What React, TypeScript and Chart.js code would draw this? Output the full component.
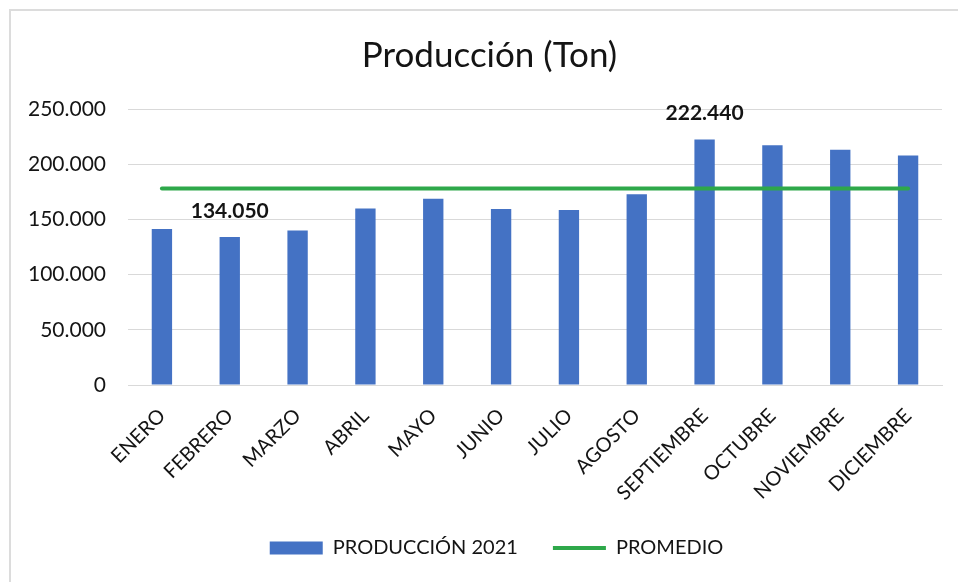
import React, { useEffect, useRef } from "react";
import { Chart, registerables } from "chart.js";

Chart.register(...registerables);

const MONTHS = [
  "ENERO",
  "FEBRERO",
  "MARZO",
  "ABRIL",
  "MAYO",
  "JUNIO",
  "JULIO",
  "AGOSTO",
  "SEPTIEMBRE",
  "OCTUBRE",
  "NOVIEMBRE",
  "DICIEMBRE",
];

const PRODUCCION_2021 = [
  141200, 134050, 139900, 159800, 168600, 159500, 158600, 172800, 222440,
  217200, 213200, 207800,
];

const PROMEDIO = [
  177900, 177900, 177900, 177900, 177900, 177900, 177900, 177900, 177900,
  177900, 177900, 177900,
];

const LABELED_INDICES = [1, 8];

const Y_MIN = 0;
const Y_MAX = 250000;
const Y_STEP = 50000;

const BLUE = "#4472C4";
const GREEN = "#2EA84A";
const TEXT = "#141414";
const FONT = "Lato, 'Open Sans', sans-serif";

function fmt(v: number): string {
  return String(Math.round(v)).replace(/\B(?=(\d{3})+(?!\d))/g, ".");
}

const valueLabels = {
  id: "valueLabels",
  afterDatasetsDraw(chart: any) {
    const meta = chart.getDatasetMeta(1);
    const ctx = chart.ctx;
    ctx.save();
    ctx.font = `bold 21px ${FONT}`;
    ctx.fillStyle = TEXT;
    ctx.textAlign = "center";
    ctx.textBaseline = "middle";
    LABELED_INDICES.forEach((i) => {
      const el = meta.data[i];
      if (el) ctx.fillText(fmt(PRODUCCION_2021[i]), el.x, el.y - 26);
    });
    ctx.restore();
  },
};

const blockShift = {
  id: "blockShift",
  afterLayout(chart: any) {
    const l = chart.legend;
    if (l) {
      l.left += 20;
      l.right += 20;
    }
    const t = chart.titleBlock;
    if (t) {
      t.left += 13;
      t.right += 13;
    }
  },
};

export default function App() {
  const ref = useRef<HTMLCanvasElement | null>(null);

  useEffect(() => {
    if (!ref.current) return;
    const chart = new Chart(ref.current, {
      type: "bar",
      data: {
        labels: MONTHS,
        datasets: [
          {
            type: "line",
            label: "PROMEDIO",
            data: PROMEDIO,
            borderColor: GREEN,
            backgroundColor: GREEN,
            borderWidth: 4,
            pointRadius: 0,
            borderCapStyle: "round",
            order: 0,
          } as any,
          {
            type: "bar",
            label: "PRODUCCIÓN 2021",
            data: PRODUCCION_2021,
            backgroundColor: BLUE,
            borderWidth: 0,
            barPercentage: 0.3,
            categoryPercentage: 1,
            order: 1,
          } as any,
        ],
      },
      options: {
        animation: false,
        responsive: true,
        maintainAspectRatio: false,
        layout: { padding: { left: 0, right: 16, top: 0, bottom: 14 } },
        plugins: {
          tooltip: { enabled: false },
          title: {
            display: true,
            text: "Producción (Ton)",
            color: TEXT,
            font: { family: FONT, size: 35, weight: "normal" },
            padding: { top: 24, bottom: 32 },
          },
          legend: {
            position: "bottom",
            align: "center",
            labels: {
              color: TEXT,
              font: { family: FONT, size: 20 },
              usePointStyle: true,
              pointStyleWidth: 53,
              boxHeight: 13,
              padding: 35,
              generateLabels: () => [
                {
                  text: "PRODUCCIÓN 2021",
                  fillStyle: BLUE,
                  strokeStyle: BLUE,
                  lineWidth: 0,
                  pointStyle: "rect",
                  fontColor: TEXT,
                  datasetIndex: 1,
                  hidden: false,
                },
                {
                  text: "PROMEDIO",
                  fillStyle: GREEN,
                  strokeStyle: GREEN,
                  lineWidth: 4,
                  pointStyle: "line",
                  fontColor: TEXT,
                  datasetIndex: 0,
                  hidden: false,
                },
              ],
            },
          },
        },
        scales: {
          x: {
            offset: true,
            grid: { display: false, drawTicks: false },
            border: { display: true, color: "#d9d9d9", width: 1 },
            ticks: {
              color: TEXT,
              font: { family: FONT, size: 20 },
              minRotation: 45,
              maxRotation: 45,
              autoSkip: false,
              padding: 19,
            },
            afterFit: (scale: any) => {
              scale.height = 118;
            },
          },
          y: {
            min: Y_MIN,
            max: Y_MAX,
            grid: { color: "#d9d9d9", lineWidth: 1, drawTicks: false },
            border: { display: false },
            ticks: {
              stepSize: Y_STEP,
              color: TEXT,
              font: { family: FONT, size: 21 },
              padding: 22,
              callback: (v: any) => fmt(Number(v)),
            },
            afterFit: (scale: any) => {
              scale.width = 117;
            },
          },
        },
      },
      plugins: [valueLabels, blockShift],
    });
    return () => chart.destroy();
  }, []);

  return (
    <div
      style={{
        position: "fixed",
        left: 9,
        top: 9,
        width: 949,
        height: 573,
        boxSizing: "border-box",
        borderTop: "2px solid #dcdcdc",
        borderLeft: "2px solid #dcdcdc",
        background: "#fff",
      }}
    >
      <div style={{ position: "relative", width: "100%", height: "100%" }}>
        <canvas ref={ref} />
      </div>
    </div>
  );
}
